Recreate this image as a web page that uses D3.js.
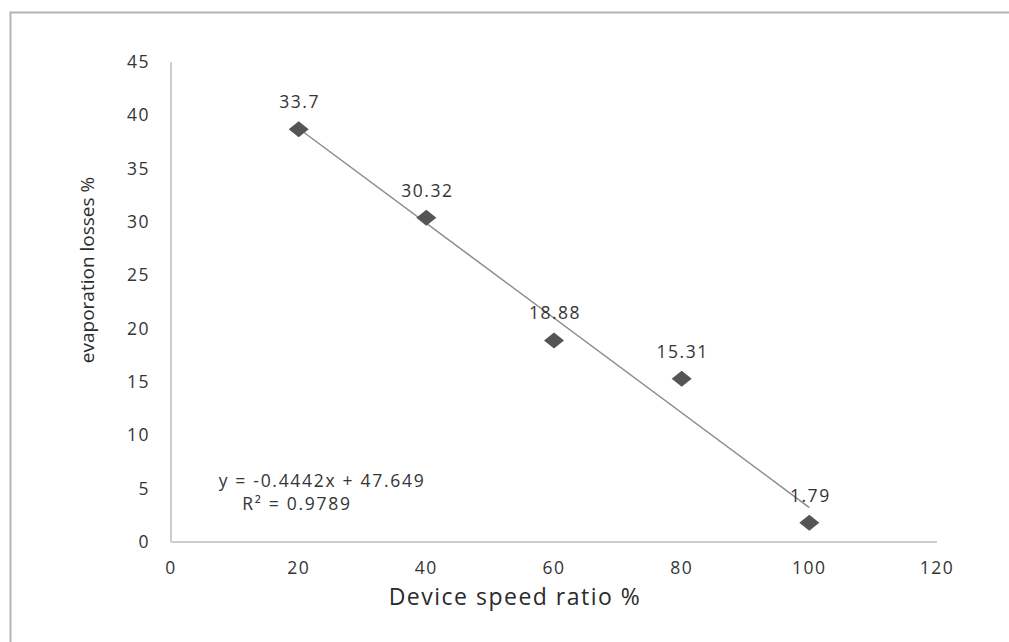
<!DOCTYPE html>
<html>
<head>
<script src="https://d3js.org/d3.v7.min.js" charset="utf-8"></script>
<style>
    body{ margin:0; background:#fff; font-family:"Open Sans", Lato, sans-serif; }
</style>
</head>
<body>
<div id="chart"></div>
<script>
    // values
    var speedRatio = [20, 40, 60, 80, 100]
    var evapLoss = [38.7, 30.4, 18.9, 15.3, 1.8]
    var pointLabels = ["33.7", "30.32", "18.88", "15.31", "1.79"]
    var xTicks = [0, 20, 40, 60, 80, 100, 120]
    var yTicks = [0, 5, 10, 15, 20, 25, 30, 35, 40, 45]
    var slope = -0.4442, intercept = 47.649
    var eqText = ["y = -0.4442x + 47.649", "R\u00b2 = 0.9789"]

    var W = 1009, H = 642
    var svg = d3.select("#chart").append("svg")
        .attr("width", W).attr("height", H)

    // outer frame (top and left edges visible)
    svg.append("path")
        .attr("d", "M10.5," + H + " V12.5 H" + W)
        .attr("fill", "none").attr("stroke", "#b4b4b4").attr("stroke-width", 2)

    var x = d3.scaleLinear().domain([0, 120]).range([171, 937])
    var y = d3.scaleLinear().domain([0, 45]).range([542, 62])

    var axisCol = "#cdcdcd"
    svg.append("line").attr("x1", x(0)).attr("x2", x(0))
        .attr("y1", y(45)).attr("y2", y(0))
        .attr("stroke", axisCol).attr("stroke-width", 2)
    svg.append("line").attr("x1", x(0)).attr("x2", x(120))
        .attr("y1", y(0)).attr("y2", y(0))
        .attr("stroke", axisCol).attr("stroke-width", 2)

    var tickFont = 17.5, txtCol = "#353535"

    svg.selectAll(".ytick").data(yTicks).enter().append("text")
        .attr("x", 150).attr("y", function(d){ return y(d) })
        .attr("dy", "0.35em").attr("text-anchor", "end")
        .attr("font-size", tickFont).attr("letter-spacing", 1.5).attr("fill", txtCol)
        .text(function(d){ return d })

    svg.selectAll(".xtick").data(xTicks).enter().append("text")
        .attr("x", function(d){ return x(d) }).attr("y", 574)
        .attr("text-anchor", "middle")
        .attr("font-size", tickFont).attr("letter-spacing", 1.5).attr("fill", txtCol)
        .text(function(d){ return d })

    // trendline
    svg.append("line")
        .attr("x1", x(20)).attr("y1", y(slope * 20 + intercept))
        .attr("x2", x(100)).attr("y2", y(slope * 100 + intercept))
        .attr("stroke", "#8c8c8c").attr("stroke-width", 1.5)

    var pts = speedRatio.map(function(s, i){ return {x: s, y: evapLoss[i], lab: pointLabels[i]} })

    svg.selectAll(".pt").data(pts).enter().append("path")
        .attr("transform", function(d){ return "translate(" + x(d.x) + "," + y(d.y) + ")" })
        .attr("d", "M0,-8 L10,0 L0,8 L-10,0 Z")
        .attr("fill", "#555")

    svg.selectAll(".lab").data(pts).enter().append("text")
        .attr("x", function(d){ return x(d.x) + 1 })
        .attr("y", function(d){ return y(d.y) - 21 })
        .attr("text-anchor", "middle")
        .attr("font-size", tickFont).attr("letter-spacing", 1.5).attr("fill", txtCol)
        .text(function(d){ return d.lab })

    svg.append("text").attr("x", 322).attr("y", 487)
        .attr("text-anchor", "middle").attr("font-size", tickFont).attr("letter-spacing", 1.7)
        .attr("fill", txtCol).text(eqText[0])
    svg.append("text").attr("x", 297).attr("y", 510)
        .attr("text-anchor", "middle").attr("font-size", tickFont).attr("letter-spacing", 1.7)
        .attr("fill", txtCol).text(eqText[1])

    // axis titles
    svg.append("text").attr("x", 515).attr("y", 605)
        .attr("text-anchor", "middle").attr("font-size", 23).attr("letter-spacing", 1.5)
        .attr("fill", "#2b2b2b")
        .text("Device speed ratio %")
    svg.append("text")
        .attr("transform", "translate(94,270) rotate(-90)")
        .attr("text-anchor", "middle").attr("font-size", 19).attr("fill", "#2b2b2b")
        .text("evaporation losses %")
</script>
</body>
</html>
